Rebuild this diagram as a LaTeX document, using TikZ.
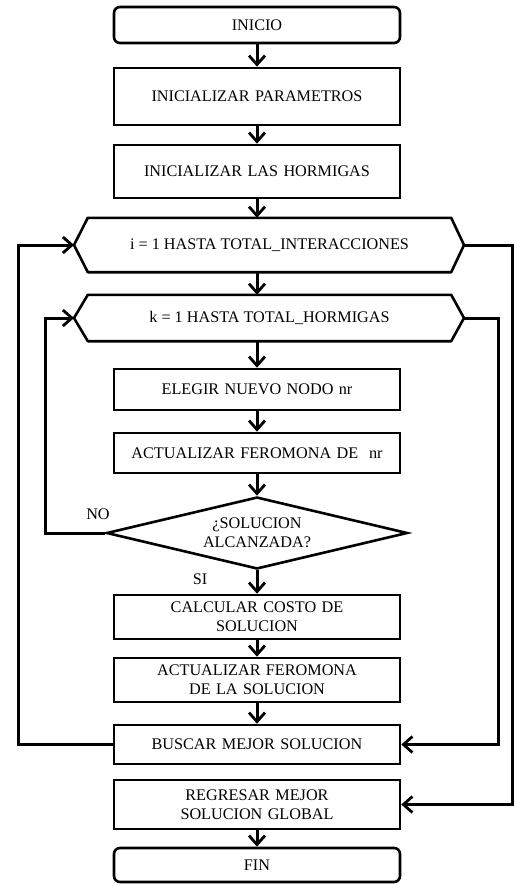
\documentclass[tikz,border=0pt]{standalone}
\usepackage{fontspec}
\setmainfont{Liberation Serif}
\usetikzlibrary{shapes.geometric,arrows.meta}
\begin{document}
\begin{tikzpicture}[x=1pt,y=-1pt,
  font=\fontsize{16.2}{19}\selectfont,
  box/.style={draw,line width=2.6pt,minimum width=286pt,inner sep=2pt,align=center,text width=276pt},
  term/.style={box,rounded corners=6pt},
  hexa/.style={minimum width=363pt,inner sep=0pt,align=center},
  conn/.style={line width=3pt,-{Straight Barb[length=9pt,width=16pt,line width=2.8pt]}},
  lbl/.style={inner sep=0pt}]
\useasboundingbox (0,0) rectangle (515,884);
\node[term,minimum height=36pt] (start) at (257,25) {INICIO};
\node[box,minimum height=57pt] (p1) at (257,96.5) {INICIALIZAR PARAMETROS};
\node[box,minimum height=53pt] (p2) at (257,171.5) {INICIALIZAR LAS HORMIGAS};
\node[hexa,minimum height=54pt] (h1) at (269.5,245) {i = 1 HASTA TOTAL\_INTERACCIONES};
\node[hexa,minimum height=46pt] (h2) at (269.5,318) {k = 1 HASTA TOTAL\_HORMIGAS};
\coordinate (h1l) at (74,245);
\coordinate (h1r) at (464,245);
\coordinate (h2l) at (74,318);
\coordinate (h2r) at (464,318);
\draw[line width=2.6pt,line join=round] (h1.north west) -- (h1.north east) -- (h1r) -- (h1.south east) -- (h1.south west) -- (h1l) -- cycle;
\draw[line width=2.6pt,line join=round] (h2.north west) -- (h2.north east) -- (h2r) -- (h2.south east) -- (h2.south west) -- (h2l) -- cycle;
\node[box,minimum height=41pt] (e1) at (257,389.5) {ELEGIR NUEVO NODO nr};
\node[box,minimum height=40pt] (a1) at (257,453) {ACTUALIZAR FEROMONA DE\ \ nr};
\node[diamond,draw,line width=2.6pt,minimum width=301pt,minimum height=72pt,aspect=4.18,inner sep=0pt,align=center] (d) at (257,533) {¿SOLUCION\\ALCANZADA?};
\node[box,minimum height=44pt] (c1) at (257,617) {CALCULAR COSTO DE\\SOLUCION};
\node[box,minimum height=44pt] (a2) at (257,680) {ACTUALIZAR FEROMONA\\DE LA SOLUCION};
\node[box,minimum height=39pt] (b) at (257,744.5) {BUSCAR MEJOR SOLUCION};
\node[box,minimum height=49pt] (r) at (257,804.5) {REGRESAR MEJOR\\SOLUCION GLOBAL};
\node[term,minimum height=34pt] (fin) at (257,865) {FIN};
\node[lbl] (no) at (98,514) {NO};
\node[lbl] (si) at (200,579) {SI};
\draw[conn] (start) -- (p1);
\draw[conn] (p1) -- (p2);
\draw[conn] (p2) -- (p2 |- h1.north);
\draw[conn] (p2 |- h1.south) -- (p2 |- h2.north);
\draw[conn] (e1 |- h2.south) -- (e1);
\draw[conn] (e1) -- (a1);
\draw[conn] (a1) -- (d);
\draw[conn] (d) -- (c1);
\draw[conn] (c1) -- (a2);
\draw[conn] (a2) -- (b);
\draw[conn] (r) -- (fin);
\draw[conn,line join=miter] (b.west) -| (18,245) -- (h1l);
\draw[conn,line join=miter] (d.west) -| (45,318) -- (h2l);
\draw[conn,line join=miter] (h1r) -| (512.5,804.5) -- (r.east);
\draw[conn,line join=miter] (h2r) -| (498,744.5) -- (b.east);
\end{tikzpicture}
\end{document}
